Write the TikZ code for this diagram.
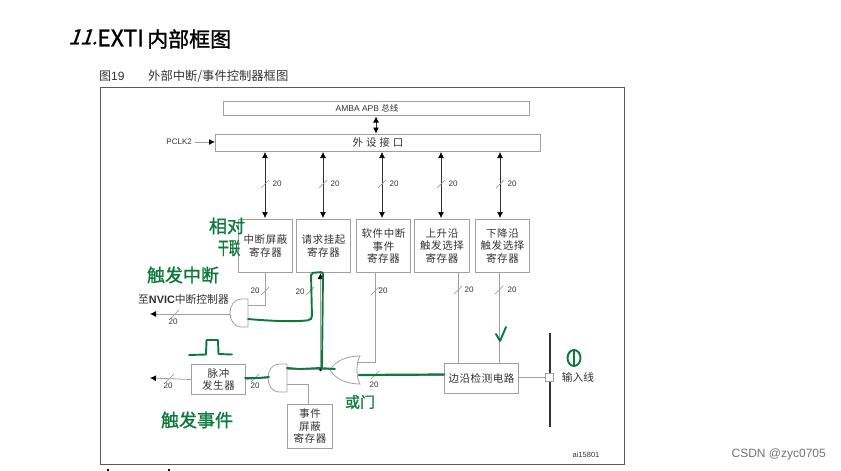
\documentclass[tikz,border=0pt]{standalone}
\usepackage{graphicx}
\usepackage{fontspec}
\setmainfont{Liberation Sans}
\newfontfamily\cjk{Noto Sans CJK SC}
\newfontfamily\cjkw[LetterSpace=5]{Noto Sans CJK SC}
\newfontfamily\cjkh[FakeBold=1.2]{Noto Sans CJK SC}
\newfontfamily\slantf[FakeSlant=0.35,FakeBold=1]{Noto Sans CJK SC}
\usetikzlibrary{arrows.meta,calc}
\definecolor{ln}{HTML}{A0A0A0}
\definecolor{tx}{HTML}{333333}
\definecolor{gr}{HTML}{0B7A3B}
\tikzset{
 x=1pt,y=-1pt,
 box/.style={draw=ln,line width=1pt,fill=white,inner sep=0pt,align=center,text=tx,font=\cjkw\fontsize{10.5}{12.5}\selectfont},
 wire/.style={draw=ln,line width=0.8pt},
 bus/.style={draw=tx,line width=0.7pt,{Latex[length=6pt,width=6pt,black]}-{Latex[length=6pt,width=6pt,black]}},
 tip/.style={draw=ln,line width=0.8pt,-{Latex[length=6pt,width=6pt,black]}},
 slash/.style={draw=ln,line width=0.7pt},
 num/.style={text=tx,font=\fontsize{8}{9}\selectfont,inner sep=0pt},
 ink/.style={draw=gr,line width=1.9pt,line cap=round,line join=round},
 hand/.style={text=gr,inner sep=0pt,font=\cjkh\fontsize{18}{19}\selectfont},
 gate/.style={draw=ln,line width=0.8pt,fill=white},
}
\newcommand{\regbox}[5]{\node[box,minimum width=#3pt,minimum height=#4pt,anchor=north west] (#1) at #2 {#5};}
\newcommand{\tick}[1]{\draw[slash] ($#1+(-4,4)$) -- ($#1+(4,-4)$);}
\begin{document}
\begin{tikzpicture}
\useasboundingbox (0,0) rectangle (841,471);
\fill[white] (0,0) rectangle (841,471);
% title
\node[anchor=west,inner sep=0pt,font=\slantf\fontsize{21}{24}\selectfont,text=black] (t1) at (68,37) {11.};
\node[anchor=west,inner sep=0pt,font=\cjkh\fontsize{23}{26}\selectfont,text=black] (t2) at (97,38) {EXTI};
\node[anchor=west,inner sep=0pt,font=\cjkh\fontsize{21}{24}\selectfont,text=black] (t3) at (147,39) {内部框图};
\node[anchor=west,inner sep=0pt,text=tx,font=\fontsize{12}{13}\selectfont] (fig) at (99,76) {{\cjk 图}19};
\node[anchor=west,inner sep=0pt,text=tx,font=\cjk\fontsize{12.3}{14}\selectfont] (cap) at (148,76) {外部中断/事件控制器框图};
% frame
\draw[draw=black!65,line width=0.9pt] (100,87) rectangle (624,464);
\fill[black] (106.5,469) rectangle (108.5,471);
\fill[black] (167.5,469) rectangle (169.5,471);
% top boxes
\regbox{amba}{(223,101)}{306}{14}{}
\node[text=tx,inner sep=0pt,font=\fontsize{8.5}{10}\selectfont] (ambat) at (367,108) {AMBA APB {\cjk 总线}};
\regbox{per}{(215,134)}{325}{17}{\fontsize{10.5}{12}\selectfont 外\ 设\ 接\ 口}
\node[num,anchor=east] (pclk) at (192,142) {PCLK2};
\coordinate (pclke) at (195,142);
\draw[tip] (pclke) -- (per.west |- pclke);
% registers
\regbox{r1}{(238,219)}{54}{53}{中断屏蔽\\寄存器}
\regbox{r2}{(296,219)}{54}{53}{请求挂起\\寄存器}
\regbox{r3}{(356,219)}{54}{53}{软件中断\\事件\\寄存器}
\regbox{r4}{(414,219)}{55}{53}{上升沿\\触发选择\\寄存器}
\regbox{r5}{(475,219)}{54}{53}{下降沿\\触发选择\\寄存器}
\draw[bus] (376,116.5) -- (376,133.5);
\foreach \n/\xx in {r1/265,r2/323,r3/382,r4/441,r5/500}{
  \draw[bus] (\xx,152) -- (\xx,218);
  \tick{(\xx,184)}
  \node[num] at (\xx+12,184) {20};
}
% lower boxes
\regbox{edge}{(444,363)}{74}{30}{边沿检测电路}
\regbox{pulse}{(191,364)}{54}{30}{脉冲\\发生器}
\regbox{ev}{(287,404)}{45}{44}{事件\\屏蔽\\寄存器}
% AND gate 1
\coordinate (g1t) at (248,299);
\coordinate (g1b) at (248,327);
\draw[gate] (g1t) -- (241,299) .. controls (234,299) and (230,306) .. (230,313) .. controls (230,320) and (234,327) .. (241,327) -- (g1b) -- cycle;
\coordinate (g1o) at (230,314);
\coordinate (nv) at (150,314);
\draw[tip] (g1o) -- (nv);
\tick{(175,314)}
\node[num] at (173,322) {20};
\node[anchor=east,inner sep=0pt,text=tx,font=\fontsize{10.8}{12}\selectfont] (nvic) at (229,299) {{\cjk 至}\textbf{NVIC}{\cjk 中断控制器}};
\draw[wire] (r1.south -| 265,0) -- (265,305) -- (248,305);
\tick{(265,291)}
\node[num] at (255,291) {20};
% AND gate 2
\coordinate (g2t) at (287,364);
\coordinate (g2b) at (287,392);
\draw[gate] (g2t) -- (279,364) .. controls (272,364) and (268,371) .. (268,378) .. controls (268,385) and (272,392) .. (279,392) -- (g2b) -- cycle;
% pulse out
\coordinate (evo) at (150,378);
\draw[tip] (pulse.west) -- (evo);
\tick{(170,378)}
\node[num] at (168,386) {20};
\draw[wire] (pulse.east) -- (268,378);
\tick{(255,378)}
\node[num] at (255,386) {20};
\draw[wire] (287,384) -- (308,384) -- (ev.north -| 308,0);
% OR gate
\coordinate (ort) at (360,356);
\coordinate (orb) at (360,384);
\draw[gate] (330,370) .. controls (336,360) and (348,356) .. (ort) .. controls (356,362) and (356,378) .. (orb) .. controls (348,384) and (336,380) .. cycle;
\draw[wire] (287,369) -- (332,369);
\draw[wire] (r3.south -| 375,0) -- (375,362) -- (358,362);
\tick{(375,291)}
\node[num] at (383,291) {20};
\draw[wire] (r4.south -| 458,0) -- (458,363);
\tick{(458,290)}
\node[num] at (469,290) {20};
\draw[wire] (r5.south -| 499,0) -- (499,363);
\tick{(499,290)}
\node[num] at (512,290) {20};
\draw[wire] (358,375) -- (edge.west |- 0,375);
\tick{(375,375)}
\node[num] at (374,385) {20};
% request wire
\coordinate (rq) at (320.5,370);
\draw[tip] (rq) -- (r2.south -| 320.5,0);
\tick{(310,291)}
\node[num] at (300,292) {20};
% input line
\draw[black!80,line width=1.8pt] (550,333) -- (550,427);
\node[draw=ln,line width=0.8pt,fill=white,minimum size=8pt,inner sep=0pt] (sq) at (549,377) {};
\draw[wire] (edge.east |- sq) -- (sq);
\node[text=tx,inner sep=0pt,font=\cjk\fontsize{10.7}{12}\selectfont] (inl) at (578,377) {输入线};
\node[text=tx,inner sep=0pt,font=\fontsize{7.5}{8}\selectfont] (ai) at (586,455) {ai15801};
% ink
\draw[ink,rounded corners=2pt] (248,319) .. controls (270,321) and (295,322) .. (310,320) -- (312,318) -- (311,273) -- (323,272) -- (322,369);
\draw[ink] (287,368) -- (300,369) -- (320,368) -- (335,369);
\fill[black] (rq) circle (1.4);
\draw[ink] (245,378) -- (258,378) -- (269,377);
\draw[ink,line width=2.2pt] (359,375) -- (444,374.5);
\draw[ink] (189,355) -- (206,354.5) -- (206.5,340) -- (218,340) -- (218.5,354) -- (232,354.5);
\draw[ink] (496,334) -- (500,341) -- (506,327);
\draw[ink] (574,358) ellipse (6.5 and 8);
\draw[ink] (574,350) -- (574,366);
\node[hand] (h1) at (227,226) {相对};
\node[hand] (h2) at (229,248) {\scalebox{0.62}[1]{干联}};
\node[hand] (h3) at (183,275) {触发中断};
\node[hand] (h4) at (197,420) {触发事件};
\node[hand,font=\cjkh\fontsize{15}{16}\selectfont] (h5) at (360,402) {或门};
% watermark
\node[anchor=east,inner sep=0pt,text=black!55,font=\fontsize{12}{14}\selectfont] (wm) at (826,454) {CSDN @zyc0705};
\end{tikzpicture}
\end{document}
